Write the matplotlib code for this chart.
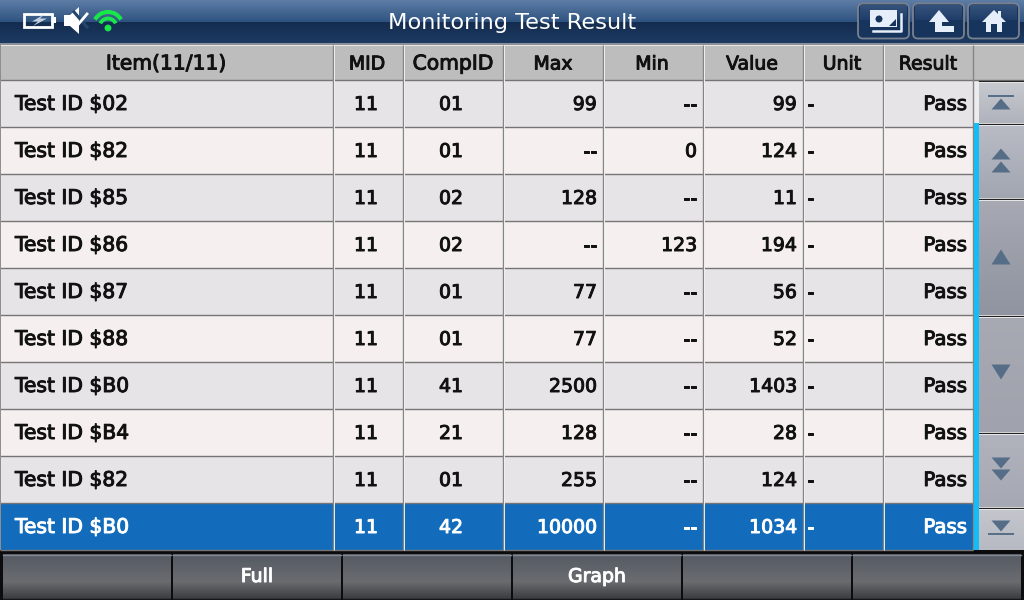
import matplotlib
matplotlib.use('Agg')
import matplotlib.pyplot as plt
import matplotlib.patheffects as pe
from matplotlib.patches import Rectangle, Polygon, Circle, Arc, FancyBboxPatch
import numpy as np

plt.rcParams['font.family'] = ['DejaVu Sans']

title = 'Monitoring Test Result'
headers = ['Item(11/11)', 'MID', 'CompID', 'Max', 'Min', 'Value', 'Unit', 'Result']
items = ['Test ID $02', 'Test ID $82', 'Test ID $85', 'Test ID $86', 'Test ID $87',
         'Test ID $88', 'Test ID $B0', 'Test ID $B4', 'Test ID $82', 'Test ID $B0']
mids = ['11'] * 10
comp_ids = ['01', '01', '02', '02', '01', '01', '41', '21', '01', '42']
maxs = ['99', '--', '128', '--', '77', '77', '2500', '128', '255', '10000']
mins = ['--', '0', '--', '123', '--', '--', '--', '--', '--', '--']
values = ['99', '124', '11', '194', '56', '52', '1403', '28', '124', '1034']
units = ['-'] * 10
results = ['Pass'] * 10
soft_keys = ['', 'Full', '', 'Graph', '', '']

col_edges = [0, 333, 403, 503, 603, 703, 803, 883, 973]
row_h = 47
top = 80
FS = 13.6
FS_WORD = 14.6

fig = plt.figure(figsize=(10.24, 6), dpi=100)
ax = fig.add_axes([0, 0, 1, 1])
ax.set_xlim(0, 1024)
ax.set_ylim(600, 0)
ax.axis('off')


def grad(x0, y0, x1, y1, stops, z=1):
    # vertical gradient, stops are (pos, colour)
    pos = [s[0] for s in stops]
    rgb = np.array([matplotlib.colors.to_rgb(s[1]) for s in stops])
    t = np.linspace(0, 1, 64)
    img = np.stack([np.interp(t, pos, rgb[:, i]) for i in range(3)], axis=1)[:, None, :]
    ax.imshow(img, extent=[x0, x1, y1, y0], aspect='auto', zorder=z, interpolation='bilinear')


def rect(x, y, w, h, c, z=2):
    ax.add_patch(Rectangle((x, y), w, h, fc=c, ec='none', zorder=z))


def tri(cx, cy, up=True, w=20, h=12, c='#566d88'):
    s = -1 if up else 1
    ax.add_patch(Polygon([(cx - w / 2, cy - s * h / 2), (cx + w / 2, cy - s * h / 2), (cx, cy + s * h / 2)],
                         fc=c, ec='none', zorder=5))


def label(x, y, s, c, ha='center', fs=FS):
    t = ax.text(x, y, s, color=c, fontsize=fs, ha=ha, va='center', zorder=6)
    t.set_path_effects([pe.withStroke(linewidth=0.7, foreground=c)])


# title bar
grad(0, 0, 1024, 22, [(0, '#5d7da6'), (1, '#2f5380')])
grad(0, 22, 1024, 43, [(0, '#142c4e'), (1, '#1d3b63')])
rect(0, 43, 1024, 2, '#8c8f96')
ax.text(512, 23, title, color='white', fontsize=16.2, ha='center', va='center', zorder=6)

# status icons
ax.add_patch(Rectangle((24, 13.5), 28, 13, fc='none', ec='white', lw=2, zorder=5))
rect(53, 17, 3, 5.5, 'white', 5)
ax.add_patch(Polygon([(44, 14.5), (32, 21.5), (38, 21.5), (33, 26), (47, 18.5), (40, 18.5)], fc='#c4d0e0', ec='none', zorder=6))
ax.add_patch(Polygon([(64, 15), (70, 15), (79, 7), (79, 34), (70, 26), (64, 26)], fc='white', ec='none', zorder=5))
ax.plot([74, 87], [12, 27], color='#24476f', lw=2.2, zorder=6)
ax.plot([76, 87], [27, 14], color='white', lw=2, zorder=6)
ax.add_patch(Circle((108, 28), 3.4, fc='#19e64b', ec='none', zorder=5))
ax.add_patch(Arc((108, 27), 30, 30, theta1=210, theta2=330, ec='#19e64b', lw=3, zorder=5))
ax.add_patch(Arc((108, 27), 17, 17, theta1=205, theta2=335, ec='#19e64b', lw=2.8, zorder=5))

# top right buttons
for bx in [858, 913, 968]:
    ax.add_patch(FancyBboxPatch((bx, 3.5), 51, 35, boxstyle='round,pad=0,rounding_size=5',
                                fc='#17345c', ec='#79818f', lw=1.3, zorder=3))
    grad(bx + 2, 5, bx + 49, 20, [(0, '#35527c'), (1, '#1e3d68')], z=3)
rect(870, 10, 27, 17, '#e6eefa', 5)
ax.add_patch(Circle((879, 19), 3.5, fc='#17345c', ec='none', zorder=7))
ax.add_patch(Polygon([(889, 26), (896, 26), (896, 19)], fc='#17345c', ec='none', zorder=7))
ax.plot([873, 901, 901], [31, 31, 14], color='#e6eefa', lw=1.8, zorder=5)
ax.add_patch(Polygon([(939, 10), (929, 22), (935, 22), (935, 32), (954, 32), (954, 26), (942, 26), (942, 22), (949, 22)],
                     fc='#e6eefa', ec='none', zorder=5))
ax.add_patch(Polygon([(994, 10), (998, 14), (998, 11), (1001, 11), (1001, 17), (1006, 22), (1002, 22), (1002, 32),
                      (997, 32), (997, 24), (991, 24), (991, 32), (986, 32), (986, 22), (982, 22)],
                     fc='#e6eefa', ec='none', zorder=5))

# table
rect(0, 45, 1024, 505, '#e7e4e8', 1)
rect(0, 45, 1024, top - 45, '#bdbdbd')
aligns = ['left', 'center', 'center', 'right', 'right', 'right', 'left', 'right']
xpos = [15, 366, 451, 597, 697, 797, 807, 967]
sizes = [FS_WORD, FS, FS, FS, FS, FS, FS, 14.2]
columns = [items, mids, comp_ids, maxs, mins, values, units, results]

for i in range(len(items)):
    y = top + i * row_h
    selected = i == len(items) - 1
    if selected:
        c = '#126cbb'
    elif i % 2:
        c = '#f5efef'
    else:
        c = '#e7e4e8'
    rect(0, y, 973, row_h, c)
    tc = 'white' if selected else '#111111'
    for col, a, x, fs in zip(columns, aligns, xpos, sizes):
        label(x, y + 24.5, col[i], tc, ha=a, fs=fs)
    ax.plot([0, 973], [y + row_h - 0.5] * 2, color='#757575', lw=1, zorder=4, solid_capstyle='butt')

ax.plot([0, 1024], [80, 80], color='#757575', lw=1, zorder=4)
rect(0, 45, 1024, 1, '#e8e8e8', 4)
for e in col_edges[1:]:
    ax.plot([e - 0.5, e - 0.5], [45, 550], color='#858585', lw=1, zorder=4, solid_capstyle='butt')
    if e < 973:
        ax.plot([e + 0.5, e + 0.5], [45, 550], color='#efefef', lw=0.7, zorder=4, solid_capstyle='butt')
rect(0, 45, 1, 505, '#8e8e8e', 4)

head_x = [166, 367, 453, 553, 652, 752, 842, 928]
head_fs = [FS_WORD, FS, FS_WORD, FS, FS, FS, FS, FS]
for h, x, fs in zip(headers, head_x, head_fs):
    label(x, 64, h, '#111111', fs=fs)

# scroll column
rect(973, 81, 51, 469, '#ececec', 2)
rect(974, 123, 5, 427, '#14bdf5', 5)
scroll = [(81, 123, '#c8cad0', '#b0b3bc'), (124, 198, '#b9bcc5', '#a2a6b1'), (199, 315, '#a7a9b3', '#8f94a0'),
          (316, 432, '#a7a9b3', '#a0a3ad'), (433, 507, '#b0b3bc', '#a6a9b3'), (508, 550, '#c4c6cc', '#b7bac2')]
for y0, y1, c0, c1 in scroll:
    grad(979, y0, 1024, y1, [(0, c0), (1, c1)], z=3)
    ax.plot([979, 1024], [y0 - 0.5] * 2, color='#222222', lw=0.9, zorder=4)
    ax.plot([979, 1024], [y0 + 0.5] * 2, color='#e8e8ec', lw=0.7, zorder=4)
tri(1001, 104, True, 19, 11)
ax.plot([989, 1013], [96, 96], color='#566d88', lw=1.4, zorder=5)
tri(1001, 154, True, 19, 11)
tri(1001, 167, True, 19, 11)
tri(1001, 257, True, 19, 15)
tri(1001, 372, False, 19, 15)
tri(1001, 463, False, 19, 11)
tri(1001, 475, False, 19, 11)
tri(1001, 526, False, 19, 11)
ax.plot([989, 1013], [534, 534], color='#566d88', lw=1.4, zorder=5)

# soft keys
rect(0, 550, 1024, 50, '#0c0c0e', 2)
for k, key in enumerate(soft_keys):
    bx = 3 + k * 170
    grad(bx, 554, bx + 168, 600, [(0, '#555a63'), (0.6, '#6a6c70'), (0.97, '#3c3d40'), (1, '#101012')], z=3)
    ax.plot([bx, bx + 168], [554.5, 554.5], color='#808590', lw=1, zorder=4)
    if key:
        label(bx + 84, 576.5, key, 'white')

ax.set_xlim(0, 1024)
ax.set_ylim(600, 0)
fig.savefig('out.png', dpi=100)
